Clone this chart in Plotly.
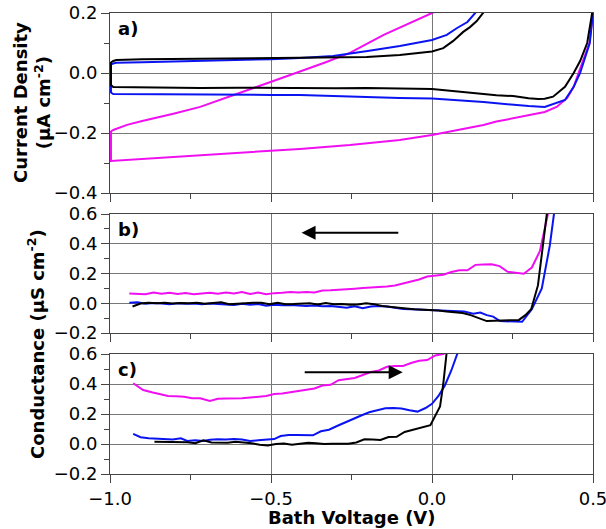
import plotly.graph_objects as go

# ---------- Panel a: cyclic voltammograms (current density, uA cm^-2) ----------
# each loop: reverse sweep (0.5 -> -1.0) followed by forward sweep (-1.0 -> 0.5)
a_black_v = [0.505, 0.497, 0.482, 0.46, 0.44, 0.413, 0.376, 0.35, 0.33, 0.30, 0.252, 0.20, 0.16,
             0.10, 0.05, 0.0, -0.1, -0.203, -0.3, -0.41, -0.5, -0.6, -0.72, -0.8, -0.9, -0.96,
             -0.99, -0.997, -0.997, -0.99, -0.98, -0.9, -0.8, -0.7, -0.6, -0.5, -0.41, -0.3,
             -0.203, -0.1, -0.05, 0.0, 0.035, 0.066, 0.097, 0.118, 0.139, 0.16, 0.18]
a_black_j = [0.25, 0.2, 0.1, 0.04, 0.0, -0.046, -0.079, -0.086, -0.087, -0.084, -0.077, -0.074, -0.07,
             -0.062, -0.057, -0.053, -0.052, -0.05, -0.051, -0.05, -0.051, -0.049, -0.05, -0.049, -0.05, -0.049,
             -0.047, -0.04, 0.035, 0.04, 0.043, 0.046, 0.047, 0.048, 0.049, 0.05, 0.052, 0.051,
             0.053, 0.06, 0.065, 0.072, 0.083, 0.107, 0.137, 0.153, 0.173, 0.2, 0.23]

a_blue_v = [0.505, 0.5, 0.49, 0.46, 0.44, 0.413, 0.376, 0.35, 0.30, 0.252, 0.20, 0.16, 0.08,
            0.0, -0.1, -0.2, -0.3, -0.41, -0.5, -0.6, -0.72, -0.85, -0.95, -0.99, -0.997,
            -0.997, -0.99, -0.98, -0.9, -0.8, -0.72, -0.6, -0.5, -0.41, -0.307, -0.2, -0.1,
            0.0, 0.046, 0.078, 0.11, 0.134, 0.15]
a_blue_j = [0.25, 0.2, 0.1, 0.0, -0.046, -0.09, -0.105, -0.113, -0.11, -0.105, -0.1, -0.097, -0.091,
            -0.085, -0.083, -0.08, -0.077, -0.073, -0.073, -0.072, -0.071, -0.07, -0.07, -0.07, -0.065,
            0.028, 0.032, 0.034, 0.036, 0.038, 0.04, 0.043, 0.046, 0.05, 0.057, 0.073, 0.09,
            0.11, 0.127, 0.15, 0.17, 0.2, 0.22]

a_mag_v = [0.505, 0.5, 0.489, 0.455, 0.44, 0.42, 0.387, 0.35, 0.30, 0.263, 0.20, 0.16, 0.08,
           0.0, -0.1, -0.255, -0.41, -0.55, -0.72, -0.85, -0.95, -0.99, -0.997,
           -0.997, -0.99, -0.947, -0.9, -0.8, -0.72, -0.62, -0.512, -0.41, -0.33, -0.255, -0.15,
           -0.07, 0.0, 0.05]
a_mag_j = [0.25, 0.2, 0.1, 0.0, -0.046, -0.083, -0.113, -0.13, -0.14, -0.147, -0.162, -0.173, -0.19,
           -0.207, -0.223, -0.24, -0.253, -0.262, -0.273, -0.282, -0.288, -0.292, -0.293,
           -0.195, -0.19, -0.173, -0.16, -0.135, -0.113, -0.075, -0.035, 0.005, 0.036, 0.067, 0.127,
           0.165, 0.2, 0.23]

# ---------- Panel b: conductance, negative-going sweep (uS cm^-2) ----------
b_mag_v = [-0.94, -0.915, -0.89, -0.865, -0.84, -0.815, -0.79, -0.765, -0.74, -0.715, -0.69,
           -0.665, -0.64, -0.615, -0.59, -0.565, -0.54, -0.515, -0.49, -0.465, -0.44, -0.415,
           -0.39, -0.365, -0.34, -0.315, -0.29, -0.265, -0.24, -0.215, -0.19, -0.165, -0.14,
           -0.115, -0.09, -0.065, -0.04, -0.015, 0.01, 0.035, 0.06, 0.085, 0.11, 0.135, 0.16,
           0.185, 0.21, 0.235, 0.26, 0.285, 0.31, 0.335, 0.36, 0.375]
b_mag_g = [0.065, 0.062, 0.060, 0.072, 0.064, 0.070, 0.062, 0.068, 0.060, 0.066, 0.070,
           0.064, 0.072, 0.066, 0.075, 0.063, 0.072, 0.060, 0.068, 0.070, 0.075, 0.072,
           0.076, 0.072, 0.085, 0.087, 0.092, 0.097, 0.098, 0.102, 0.105, 0.108, 0.112,
           0.120, 0.132, 0.146, 0.160, 0.180, 0.188, 0.192, 0.210, 0.222, 0.222, 0.258, 0.260,
           0.262, 0.250, 0.212, 0.205, 0.198, 0.240, 0.350, 0.600, 0.800]

b_black_v = [-0.93, -0.905, -0.88, -0.855, -0.83, -0.805, -0.78, -0.755, -0.73, -0.705, -0.68,
             -0.655, -0.63, -0.605, -0.58, -0.555, -0.53, -0.505, -0.48, -0.455, -0.43, -0.405,
             -0.38, -0.355, -0.33, -0.305, -0.28, -0.255, -0.23, -0.205, -0.18, -0.155, -0.13,
             -0.105, -0.08, -0.055, -0.03, -0.005, 0.02, 0.045, 0.07, 0.095, 0.12, 0.145, 0.17,
             0.195, 0.22, 0.245, 0.27, 0.29, 0.308, 0.329, 0.345, 0.36]
b_black_g = [-0.022, -0.002, 0.004, 0.0, 0.003, -0.002, 0.002, 0.0, 0.004, -0.003, 0.001,
             0.006, -0.006, -0.002, -0.002, 0.003, 0.003, -0.006, 0.004, -0.006, -0.005, -0.004,
             0.0, -0.008, 0.002, -0.006, -0.005, -0.01, -0.008, 0.0, -0.006, -0.018, -0.025,
             -0.03, -0.035, -0.04, -0.042, -0.045, -0.048, -0.055, -0.062, -0.066, -0.08, -0.1, -0.12,
             -0.118, -0.115, -0.114, -0.112, -0.08, -0.04, 0.12, 0.41, 0.66]

b_blue_v = [-0.94, -0.915, -0.89, -0.865, -0.84, -0.815, -0.79, -0.765, -0.74, -0.715, -0.69,
            -0.665, -0.64, -0.615, -0.59, -0.565, -0.54, -0.515, -0.49, -0.465, -0.44, -0.415,
            -0.39, -0.365, -0.34, -0.315, -0.29, -0.265, -0.24, -0.215, -0.19, -0.165, -0.14,
            -0.115, -0.09, -0.065, -0.04, -0.015, 0.01, 0.035, 0.07, 0.1, 0.128, 0.15, 0.17,
            0.19, 0.211, 0.25, 0.28, 0.31, 0.341, 0.366, 0.38]
b_blue_g = [0.004, 0.006, -0.004, 0.002, -0.002, -0.006, 0.0, -0.004, -0.002, -0.006, -0.001,
            -0.003, -0.008, -0.012, -0.004, -0.01, -0.005, -0.016, -0.01, -0.014, -0.012, -0.015,
            -0.018, -0.015, -0.02, -0.018, -0.026, -0.03, -0.02, -0.034, -0.022, -0.018, -0.022,
            -0.03, -0.038, -0.04, -0.042, -0.044, -0.046, -0.045, -0.05, -0.055, -0.07, -0.062, -0.08,
            -0.09, -0.12, -0.125, -0.125, -0.04, 0.1, 0.39, 0.62]

# ---------- Panel c: conductance, positive-going sweep (uS cm^-2) ----------
c_mag_v = [-0.928, -0.91, -0.897, -0.87, -0.845, -0.82, -0.795, -0.77, -0.745, -0.72, -0.69,
           -0.665, -0.64, -0.615, -0.59, -0.565, -0.54, -0.515, -0.49, -0.465, -0.44, -0.415,
           -0.39, -0.365, -0.34, -0.315, -0.29, -0.265, -0.24, -0.215, -0.19, -0.165, -0.14,
           -0.115, -0.09, -0.065, -0.04, -0.015, 0.01, 0.035, 0.06]
c_mag_g = [0.405, 0.38, 0.36, 0.345, 0.33, 0.32, 0.318, 0.315, 0.305, 0.305, 0.287,
           0.302, 0.303, 0.303, 0.305, 0.31, 0.315, 0.32, 0.333, 0.336, 0.345, 0.355,
           0.36, 0.37, 0.39, 0.395, 0.425, 0.43, 0.44, 0.46, 0.48, 0.49, 0.515,
           0.52, 0.52, 0.54, 0.555, 0.56, 0.59, 0.6, 0.63]

c_blue_v = [-0.928, -0.905, -0.88, -0.855, -0.83, -0.805, -0.78, -0.76, -0.735, -0.71, -0.69,
            -0.665, -0.64, -0.615, -0.59, -0.565, -0.54, -0.515, -0.49, -0.47, -0.445, -0.42,
            -0.395, -0.37, -0.345, -0.32, -0.295, -0.27, -0.245, -0.22, -0.195, -0.17, -0.145,
            -0.12, -0.095, -0.07, -0.045, -0.02, 0.0, 0.02, 0.04, 0.06, 0.08]
c_blue_g = [0.067, 0.045, 0.038, 0.035, 0.033, 0.03, 0.038, 0.02, 0.025, 0.02, 0.028,
            0.032, 0.03, 0.033, 0.03, 0.02, 0.025, 0.027, 0.033, 0.053, 0.06, 0.06,
            0.058, 0.058, 0.085, 0.095, 0.12, 0.145, 0.165, 0.19, 0.212, 0.225, 0.238,
            0.24, 0.236, 0.225, 0.216, 0.24, 0.268, 0.32, 0.39, 0.49, 0.61]

c_black_v = [-0.862, -0.835, -0.81, -0.785, -0.76, -0.735, -0.71, -0.685, -0.66, -0.635, -0.61,
             -0.585, -0.56, -0.535, -0.51, -0.485, -0.46, -0.435, -0.41, -0.385, -0.36, -0.335,
             -0.31, -0.285, -0.26, -0.235, -0.21, -0.185, -0.16, -0.135, -0.11, -0.085, -0.06,
             -0.035, -0.005, 0.025, 0.035, 0.046]
c_black_g = [0.015, 0.015, 0.015, 0.016, 0.012, 0.005, 0.025, 0.01, 0.008, 0.008, 0.015,
             0.012, 0.005, -0.005, -0.01, 0.0, 0.003, -0.005, 0.0, 0.008, 0.005, 0.0,
             0.001, 0.0, 0.001, 0.01, 0.032, 0.03, 0.027, 0.047, 0.048, 0.08, 0.095,
             0.105, 0.125, 0.25, 0.40, 0.62]

BLACK = "#000000"
BLUE = "#0a14f0"
MAGENTA = "#f00ff0"
FONT = "DejaVu Sans"
AXIS_COLOR = "#444444"
GRID_COLOR = "#777777"

fig = go.Figure()


def add_line(x, y, color, xa, ya):
    fig.add_trace(go.Scatter(x=x, y=y, mode="lines", xaxis=xa, yaxis=ya,
                             line=dict(color=color, width=2), showlegend=False,
                             hoverinfo="skip"))


add_line(a_mag_v, a_mag_j, MAGENTA, "x", "y")
add_line(a_blue_v, a_blue_j, BLUE, "x", "y")
add_line(a_black_v, a_black_j, BLACK, "x", "y")

add_line(b_mag_v, b_mag_g, MAGENTA, "x2", "y2")
add_line(b_blue_v, b_blue_g, BLUE, "x2", "y2")
add_line(b_black_v, b_black_g, BLACK, "x2", "y2")

add_line(c_mag_v, c_mag_g, MAGENTA, "x3", "y3")
add_line(c_blue_v, c_blue_g, BLUE, "x3", "y3")
add_line(c_black_v, c_black_g, BLACK, "x3", "y3")

FS = 18
tickfont = dict(family=FONT, size=FS, color="black")


def xaxis(anchor, labels):
    return dict(
        range=[-1.0, 0.5], anchor=anchor, domain=[0, 1],
        dtick=0.5, tick0=0, tickformat=".1f", showticklabels=labels,
        ticklabeloverflow="allow", automargin=False,
        ticks="outside", ticklen=8, tickwidth=1, tickcolor=AXIS_COLOR,
        minor=dict(dtick=0.25, tick0=0, ticks="outside", ticklen=5,
                   tickcolor=AXIS_COLOR, showgrid=False),
        showline=True, linecolor=AXIS_COLOR, linewidth=1, mirror=True,
        showgrid=True, gridcolor=GRID_COLOR, gridwidth=1,
        zeroline=False, tickfont=tickfont,
    )


def yaxis(anchor, rng, domain):
    return dict(
        range=rng, anchor=anchor, domain=domain, automargin=False,
        dtick=0.2, tick0=0, tickformat=".1f",
        ticks="outside", ticklen=8, tickwidth=1, tickcolor=AXIS_COLOR,
        minor=dict(dtick=0.1, tick0=0, ticks="outside", ticklen=5,
                   tickcolor=AXIS_COLOR, showgrid=False),
        showline=True, linecolor=AXIS_COLOR, linewidth=1, mirror=True,
        showgrid=True, gridcolor=GRID_COLOR, gridwidth=1,
        zeroline=False, tickfont=tickfont,
    )


H = 461.0
fig.update_layout(
    width=606, height=529,
    margin=dict(l=110, r=13, t=13, b=55, autoexpand=False),
    paper_bgcolor="white", plot_bgcolor="white",
    font=dict(family=FONT, size=FS, color="black"),
    xaxis=xaxis("y", False),
    xaxis2=xaxis("y2", False),
    xaxis3=xaxis("y3", True),
    yaxis=yaxis("x", [-0.4, 0.2], [(474 - 193) / H, 1.0]),
    yaxis2=yaxis("x2", [-0.2, 0.6], [(474 - 333) / H, (474 - 214) / H]),
    yaxis3=yaxis("x3", [-0.2, 0.6], [0.0, 120 / H]),
)

bold = dict(family=FONT, size=FS, color="black")
annotations = [
    dict(text="<b>a)</b>", xref="x domain", yref="y domain", x=0.012, y=0.985,
         xanchor="left", yanchor="top", showarrow=False, font=bold),
    dict(text="<b>b)</b>", xref="x2 domain", yref="y2 domain", x=0.012, y=0.975,
         xanchor="left", yanchor="top", showarrow=False, font=bold),
    dict(text="<b>c)</b>", xref="x3 domain", yref="y3 domain", x=0.012, y=0.975,
         xanchor="left", yanchor="top", showarrow=False, font=bold),
    dict(text="<b>Current Density</b><br><b>(µA cm<sup>-2</sup>)</b>", xref="paper", yref="paper",
         x=(32 - 110) / 483.0, y=(474 - 103) / H, xanchor="center", yanchor="middle",
         textangle=-90, showarrow=False, font=bold),
    dict(text="<b>Conductance (µS cm<sup>-2</sup>)</b>", xref="paper", yref="paper",
         x=(36 - 110) / 483.0, y=(474 - 344) / H, xanchor="center", yanchor="middle",
         textangle=-90, showarrow=False, font=bold),
    dict(text="<b>Bath Voltage (V)</b>", xref="paper", yref="paper",
         x=0.5, y=-(517 - 474) / H, xanchor="center", yanchor="middle",
         showarrow=False, font=bold),
    # sweep direction arrows
    dict(text="", xref="x2", yref="y2", axref="x2", ayref="y2",
         x=-0.405, y=0.474, ax=-0.1, ay=0.474, showarrow=True,
         arrowhead=2, arrowsize=1.4, arrowwidth=2, arrowcolor="black"),
    dict(text="", xref="x3", yref="y3", axref="x3", ayref="y3",
         x=-0.091, y=0.478, ax=-0.40, ay=0.478, showarrow=True,
         arrowhead=2, arrowsize=1.4, arrowwidth=2, arrowcolor="black"),
]
fig.update_layout(annotations=annotations)

fig.write_html("out.html")
